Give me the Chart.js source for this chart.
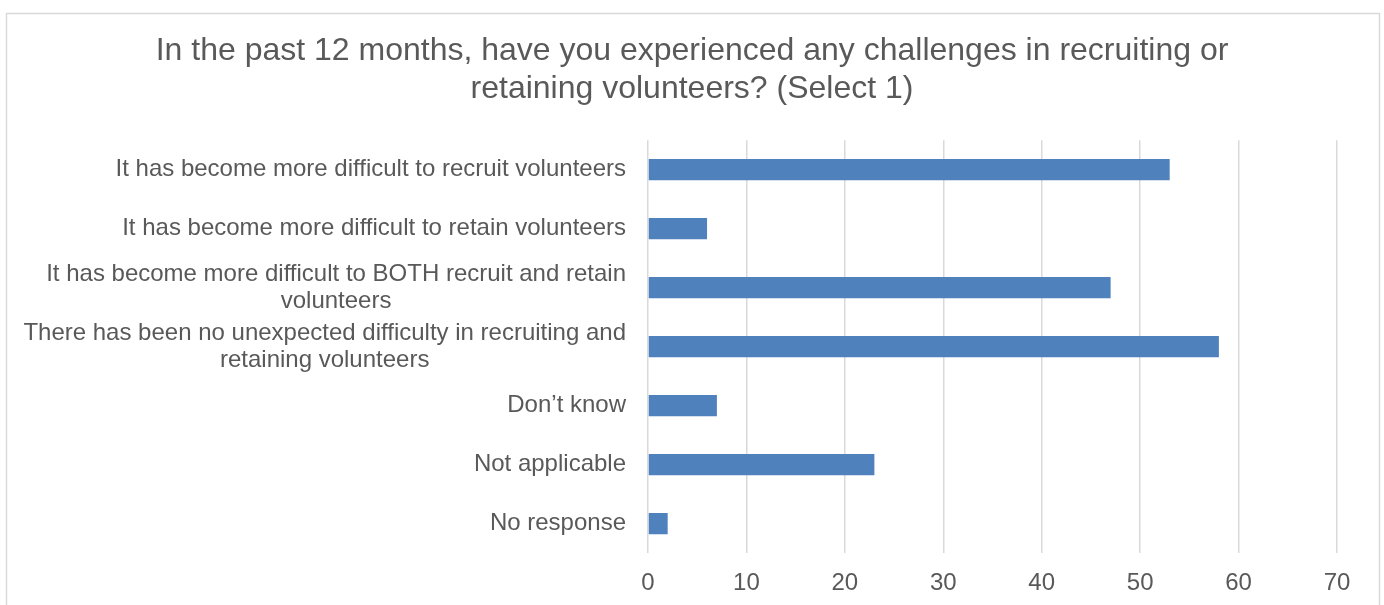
<!DOCTYPE html>
<html>
<head>
<meta charset="utf-8">
<script src="https://cdn.jsdelivr.net/npm/chart.js@4"></script>
<style>
  html, body { margin: 0; padding: 0; background: #fff; }
  #wrap { width: 1384px; height: 605px; }
</style>
</head>
<body>
<div id="wrap"><canvas id="retencionChart"></canvas></div>
<script>
// survey answers (multi-line ones are split the way they wrap)
const categories = [
  'It has become more difficult to recruit volunteers',
  'It has become more difficult to retain volunteers',
  ['It has become more difficult to BOTH recruit and retain', 'volunteers'],
  ['There has been no unexpected difficulty in recruiting and', 'retaining volunteers'],
  'Don\u2019t know',
  'Not applicable',
  'No response'
];
const respuestas = [53, 6, 47, 58, 7, 23, 2];
const xTicks = [0, 10, 20, 30, 40, 50, 60, 70];

const titleLines = [
  'In the past 12 months, have you experienced any challenges in recruiting or',
  'retaining volunteers? (Select 1)'
];

const FONT = "'Liberation Sans', Arial, sans-serif";
const TEXT = '#595959';
const GRID = '#d9d9d9';

// outer frame of the chart
const framePlugin = {
  id: 'frame',
  beforeDraw(chart) {
    const ctx = chart.ctx;
    ctx.save();
    ctx.strokeStyle = GRID;
    ctx.lineWidth = 1.5;
    ctx.strokeRect(6.5, 13.5, 1373, 700);
    ctx.restore();
  }
};

// category labels: block right-aligned, lines centred inside the block
const labelPlugin = {
  id: 'catLabels',
  afterDraw(chart) {
    const ctx = chart.ctx;
    const y = chart.scales.y;
    const right = chart.chartArea.left - 22;
    const lh = 27;
    ctx.save();
    ctx.font = '24px ' + FONT;
    ctx.fillStyle = TEXT;
    ctx.textAlign = 'center';
    ctx.textBaseline = 'middle';
    categories.forEach((lab, i) => {
      const lines = Array.isArray(lab) ? lab : [lab];
      const w = Math.max(...lines.map(l => ctx.measureText(l).width));
      const cx = right - w / 2;
      const cy = y.getPixelForTick(i);
      lines.forEach((l, k) => {
        ctx.fillText(l, cx, cy + (k - (lines.length - 1) / 2) * lh);
      });
    });
    ctx.restore();
  }
};

const ctx = document.getElementById('retencionChart').getContext('2d');
new Chart(ctx, {
  type: 'bar',
  data: {
    labels: categories,
    datasets: [{
      label: 'Respuestas',
      data: respuestas,
      backgroundColor: '#4F81BD',
      borderWidth: 0,
      categoryPercentage: 1,
      barPercentage: 0.36
    }]
  },
  options: {
    indexAxis: 'y',
    responsive: true,
    maintainAspectRatio: false,
    animation: false,
    layout: { padding: { left: 47, right: 47, top: 0, bottom: 0 } },
    plugins: {
      legend: { display: false },
      tooltip: { enabled: false },
      title: {
        display: true,
        text: titleLines,
        color: TEXT,
        font: { family: FONT, size: 32, weight: 'normal', lineHeight: 1.19 },
        padding: { top: 32, bottom: 32 }
      }
    },
    scales: {
      x: {
        min: xTicks[0],
        max: xTicks[xTicks.length - 1],
        afterBuildTicks(scale) {
          scale.ticks = xTicks.map(v => ({ value: v }));
        },
        afterFit(scale) { scale.height = 52; },
        grid: { color: GRID, lineWidth: 1.5, drawTicks: false },
        border: { display: false },
        ticks: {
          color: TEXT,
          padding: 16,
          font: { family: FONT, size: 24 }
        }
      },
      y: {
        grid: { display: false },
        border: { display: false },
        ticks: { display: false },
        afterFit(scale) { scale.width = 601; }
      }
    }
  },
  plugins: [framePlugin, labelPlugin]
});
</script>
</body>
</html>
